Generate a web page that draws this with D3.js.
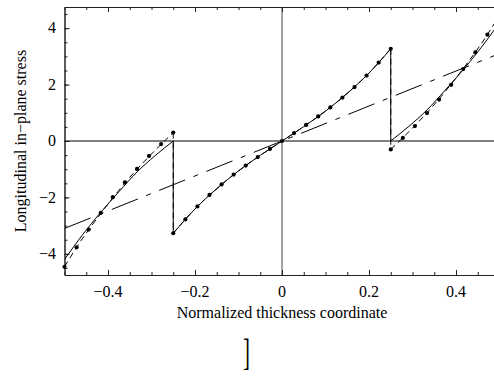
<!DOCTYPE html>
<html>
<head>
<meta charset="utf-8">
<script src="https://cdn.jsdelivr.net/npm/d3@7"></script>
<style>
  body { margin: 0; background: #fff; }
  text { font-family: "Liberation Serif", "Times New Roman", serif; fill: #000; }
</style>
</head>
<body>
<div class="chart"></div>
<script>
// setup chart dimensions
var svgWidth = 494;
var svgHeight = 376;

// plot area edges (the right edge runs past the window, as in the source)
var plot = { left: 64.5, right: 499.5, top: 7, bottom: 275 };

// tick values and labels
var xTicks = [-0.4, -0.2, 0, 0.2, 0.4];
var xTickLabels = ["\u22120.4", "\u22120.2", "0", "0.2", "0.4"];
var yTicks = [-4, -2, 0, 2, 4];
var yTickLabels = ["\u22124", "\u22122", "0", "2", "4"];

// sampled points (dots)
var dotX = [-0.5, -0.4722, -0.4444, -0.4167, -0.3889, -0.3611, -0.3333, -0.3056, -0.2778, -0.25,
            -0.25, -0.2222, -0.1944, -0.1667, -0.1389, -0.1111, -0.0833, -0.0556, -0.0278, 0,
            0.0278, 0.0556, 0.0833, 0.1111, 0.1389, 0.1667, 0.1944, 0.2222, 0.25,
            0.25, 0.2778, 0.3056, 0.3333, 0.3611, 0.3889, 0.4167, 0.4444, 0.4722, 0.5];
var dotY = [-4.46, -3.77, -3.14, -2.55, -1.99, -1.47, -0.99, -0.53, -0.11, 0.30,
            -3.27, -2.78, -2.32, -1.91, -1.54, -1.19, -0.87, -0.57, -0.28, 0,
            0.28, 0.57, 0.87, 1.19, 1.54, 1.91, 2.32, 2.78, 3.27,
            -0.30, 0.11, 0.53, 0.99, 1.47, 1.99, 2.55, 3.14, 3.77, 4.46];

// solid curve, one piece per layer
var solidLeftX = [-0.5, -0.4583, -0.4167, -0.375, -0.3333, -0.2917, -0.25];
var solidLeftY = [-4.2, -3.32, -2.53, -1.80, -1.10, -0.52, 0];
var solidMidX = [-0.25, -0.2, -0.15, -0.1, -0.05, 0, 0.05, 0.1, 0.15, 0.2, 0.25];
var solidMidY = [-3.27, -2.41, -1.69, -1.06, -0.51, 0, 0.51, 1.06, 1.69, 2.41, 3.27];
var solidRightX = [0.25, 0.2917, 0.3333, 0.375, 0.4167, 0.4583, 0.5];
var solidRightY = [0, 0.52, 1.10, 1.80, 2.53, 3.32, 4.2];

// dashed curve, one piece per layer
var dashLeftX = [-0.5, -0.4583, -0.4167, -0.375, -0.3333, -0.2917, -0.25];
var dashLeftY = [-4.45, -3.45, -2.57, -1.75, -1.00, -0.33, 0.30];
var dashMidX = [-0.25, -0.2, -0.15, -0.1, -0.05, 0, 0.05, 0.1, 0.15, 0.2, 0.25];
var dashMidY = [-3.27, -2.41, -1.69, -1.06, -0.51, 0, 0.51, 1.06, 1.69, 2.41, 3.27];
var dashRightX = [0.25, 0.2917, 0.3333, 0.375, 0.4167, 0.4583, 0.5];
var dashRightY = [-0.30, 0.33, 1.00, 1.75, 2.57, 3.45, 4.45];

// dash-dot straight line
var lineX = [-0.5, 0.5];
var lineY = [-3.1, 3.1];

var svg = d3.select(".chart")
  .append("svg")
  .attr("width", svgWidth)
  .attr("height", svgHeight);

var xScale = d3.scaleLinear().domain([-0.5, 0.5]).range([plot.left, plot.right]);
var yScale = d3.scaleLinear().domain([-4.75, 4.75]).range([plot.bottom, plot.top]);

svg.append("clipPath").attr("id", "clip")
  .append("rect")
  .attr("x", plot.left).attr("y", plot.top)
  .attr("width", plot.right - plot.left).attr("height", plot.bottom - plot.top);

// zero axes
svg.append("line")
  .attr("x1", xScale(0)).attr("x2", xScale(0))
  .attr("y1", plot.top).attr("y2", plot.bottom)
  .attr("stroke", "#707070").attr("stroke-width", 1.3);
svg.append("line")
  .attr("x1", plot.left).attr("x2", plot.right)
  .attr("y1", yScale(0)).attr("y2", yScale(0))
  .attr("stroke", "#000").attr("stroke-width", 1);

// frame with inward ticks
function tickAxis(axisFn, scale, values, size) {
  return axisFn(scale).tickValues(values).tickSizeInner(size).tickSizeOuter(0).tickFormat("");
}
var xMinor = d3.range(-10, 11).map(d => d * 0.05);
var yMinor = d3.range(-9, 10).map(d => d * 0.5);

var frame = svg.append("g").attr("class", "frame");
frame.append("g").attr("transform", `translate(0,${plot.bottom})`)
  .call(tickAxis(d3.axisBottom, xScale, xMinor, -3));
frame.append("g").attr("transform", `translate(0,${plot.bottom})`)
  .call(tickAxis(d3.axisBottom, xScale, xTicks, -5));
frame.append("g").attr("transform", `translate(0,${plot.top})`)
  .call(tickAxis(d3.axisTop, xScale, xMinor, -3));
frame.append("g").attr("transform", `translate(0,${plot.top})`)
  .call(tickAxis(d3.axisTop, xScale, xTicks, -5));
frame.append("g").attr("transform", `translate(${plot.left},0)`)
  .call(tickAxis(d3.axisLeft, yScale, yMinor, -3));
frame.append("g").attr("transform", `translate(${plot.left},0)`)
  .call(tickAxis(d3.axisLeft, yScale, yTicks, -5));
frame.selectAll("path.domain").attr("stroke", "#222");
frame.selectAll("line").attr("stroke", "#222");

// tick labels
svg.selectAll(".xlab")
  .data(xTicks)
  .enter()
  .append("text")
  .attr("x", d => xScale(d))
  .attr("y", 297)
  .attr("text-anchor", "middle")
  .attr("font-size", 16)
  .text((d, i) => xTickLabels[i]);

svg.selectAll(".ylab")
  .data(yTicks)
  .enter()
  .append("text")
  .attr("x", 56)
  .attr("y", d => yScale(d))
  .attr("dy", "0.33em")
  .attr("text-anchor", "end")
  .attr("font-size", 16)
  .text((d, i) => yTickLabels[i]);

// axis titles
svg.append("text")
  .attr("x", xScale(0))
  .attr("y", 318)
  .attr("text-anchor", "middle")
  .attr("font-size", 16)
  .text("Normalized thickness coordinate");

svg.append("text")
  .attr("transform", `translate(26,${(plot.top + plot.bottom) / 2}) rotate(-90)`)
  .attr("text-anchor", "middle")
  .attr("font-size", 16)
  .text("Longitudinal in\u2212plane stress");

// curves
var chartGroup = svg.append("g").attr("clip-path", "url(#clip)");

function pts(xs, ys) { return xs.map((x, i) => [x, ys[i]]); }

var lineGen = d3.line()
  .x(d => xScale(d[0]))
  .y(d => yScale(d[1]))
  .curve(d3.curveMonotoneX);

// each piece is drawn as its own path, joined by the vertical jumps
function drawPieces(pieces, dash) {
  pieces.forEach(function(p) {
    chartGroup.append("path")
      .attr("d", lineGen(p))
      .attr("fill", "none")
      .attr("stroke", "#000")
      .attr("stroke-width", 1)
      .attr("stroke-dasharray", dash);
  });
  for (var i = 0; i < pieces.length - 1; i++) {
    var a = pieces[i][pieces[i].length - 1];
    var b = pieces[i + 1][0];
    chartGroup.append("line")
      .attr("x1", xScale(a[0])).attr("x2", xScale(b[0]))
      .attr("y1", yScale(a[1])).attr("y2", yScale(b[1]))
      .attr("stroke", "#000")
      .attr("stroke-width", 1)
      .attr("stroke-dasharray", dash);
  }
}

drawPieces([pts(dashLeftX, dashLeftY), pts(dashMidX, dashMidY), pts(dashRightX, dashRightY)], "6,4");
drawPieces([pts(solidLeftX, solidLeftY), pts(solidMidX, solidMidY), pts(solidRightX, solidRightY)], null);

chartGroup.append("path")
  .attr("d", d3.line().x(d => xScale(d[0])).y(d => yScale(d[1]))(pts(lineX, lineY)))
  .attr("fill", "none")
  .attr("stroke", "#000")
  .attr("stroke-width", 1)
  .attr("stroke-dasharray", "28,9,5,9");

// dots
svg.selectAll("circle")
  .data(pts(dotX, dotY))
  .enter()
  .append("circle")
  .attr("cx", d => xScale(d[0]))
  .attr("cy", d => yScale(d[1]))
  .attr("r", 2.1)
  .attr("fill", "#000");

// stray bracket below the plot
svg.append("text")
  .attr("transform", "translate(250,365) scale(0.55,1)")
  .attr("text-anchor", "end")
  .attr("font-size", 38)
  .attr("fill", "#333")
  .text("]");
</script>
</body>
</html>
